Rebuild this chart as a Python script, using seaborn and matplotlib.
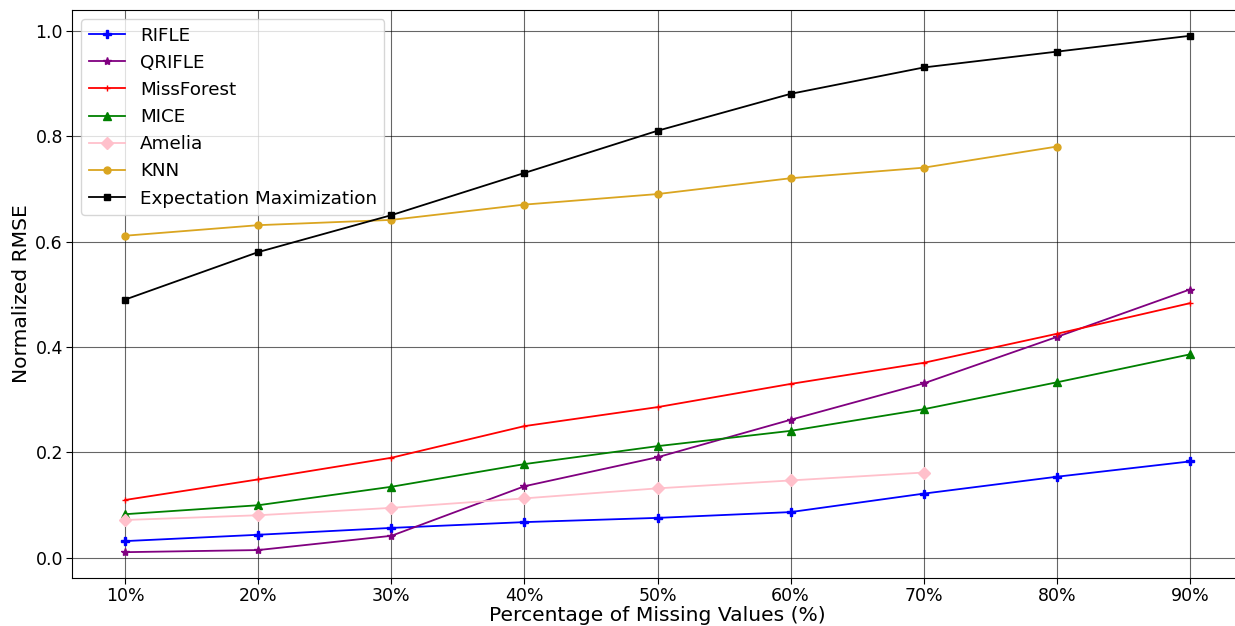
import matplotlib
matplotlib.use("Agg")
import matplotlib.pyplot as plt
import seaborn as sns
import numpy as np

# Percentage of missing values
missing_pct = [10, 20, 30, 40, 50, 60, 70, 80, 90]

rifle = [0.032, 0.044, 0.057, 0.068, 0.076, 0.087, 0.122, 0.154, 0.183]
qrifle = [0.011, 0.015, 0.042, 0.136, 0.191, 0.262, 0.331, 0.419, 0.509]
missforest = [0.110, 0.149, 0.190, 0.250, 0.286, 0.330, 0.370, 0.425, 0.483]
mice = [0.083, 0.100, 0.135, 0.178, 0.212, 0.241, 0.282, 0.333, 0.386]
amelia = [0.072, 0.081, 0.095, 0.113, 0.132, 0.147, 0.162]
knn = [0.611, 0.631, 0.641, 0.670, 0.690, 0.720, 0.740, 0.780]
em = [0.490, 0.580, 0.650, 0.730, 0.810, 0.880, 0.930, 0.960, 0.990]

series = [
    ("RIFLE", rifle, "blue", "P", 6),
    ("QRIFLE", qrifle, "purple", "*", 6),
    ("MissForest", missforest, "red", "+", 5),
    ("MICE", mice, "green", "^", 6),
    ("Amelia", amelia, "pink", "D", 6),
    ("KNN", knn, "goldenrod", "o", 5),
    ("Expectation Maximization", em, "black", "s", 5),
]

fig, ax = plt.subplots(figsize=(12.35, 6.26), dpi=100)

for name, vals, color, marker, ms in series:
    sns.lineplot(x=missing_pct[:len(vals)], y=vals, ax=ax, label=name,
                 color=color, marker=marker, markersize=ms,
                 mec=color, mfc=color, mew=1.0, linewidth=1.3)

ax.set_xticks(missing_pct)
ax.set_xticklabels([f"{p}%" for p in missing_pct])
ax.tick_params(axis="both", labelsize=12.5, length=4, pad=2.5)
ax.set_xlabel("Percentage of Missing Values (%)", fontsize=14.6, labelpad=1)
ax.set_ylabel("Normalized RMSE", fontsize=14.6, labelpad=3)
ax.grid(True, color="black", alpha=0.6, linewidth=0.8)
ax.legend(loc="upper left", fontsize=13.2)

fig.subplots_adjust(left=0.0583, right=1.0065, top=0.984, bottom=0.0767)
fig.savefig("out.png", dpi=100)
